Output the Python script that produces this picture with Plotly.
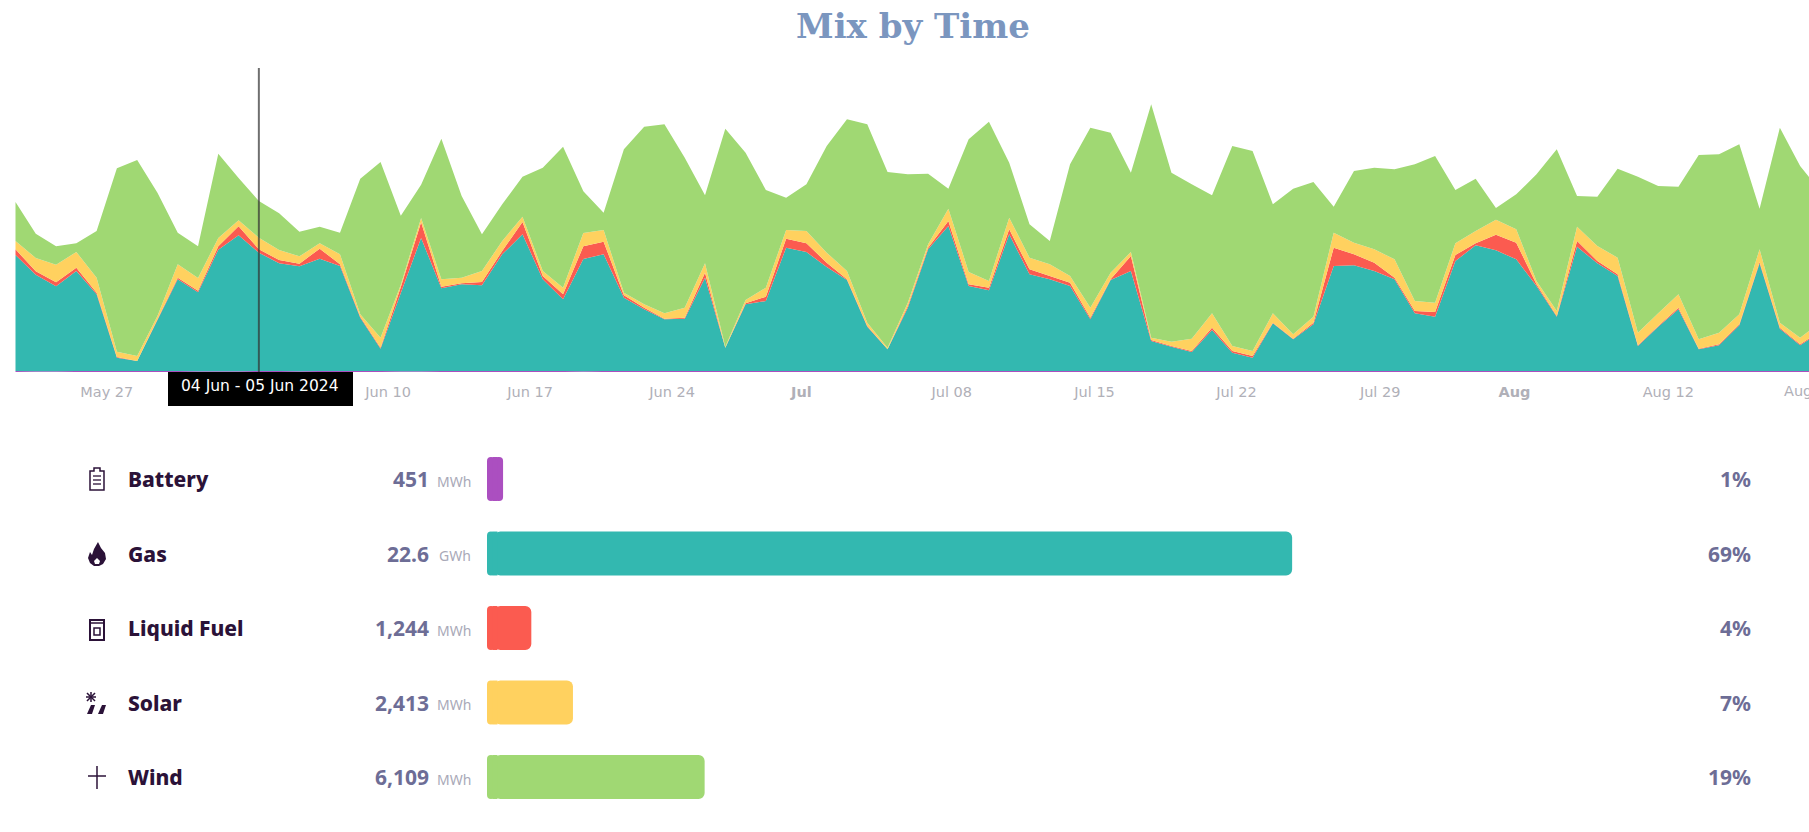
import pandas as pd
import plotly.graph_objects as go

W, H = 1809, 832

# Daily stacked values (May 23 onwards)
gas = [348,290,255,300,230,40,30,153,275,237,365,408,355,323,315,337,315,160,67,235,400,248,260,257,350,410,275,215,337,350,
       220,185,155,157,280,70,200,210,370,357,312,273,133,65,190,365,435,255,242,410,290,275,255,155,273,300,90,73,57,123,
       55,40,143,95,140,315,317,300,275,173,163,330,377,362,335,255,163,373,323,285,75,133,185,65,77,137,323,127,77,117]
liquid = [17,10,12,10,5,2,0,2,5,5,10,27,10,10,8,30,5,3,3,18,47,5,3,10,10,37,10,15,38,38,
          7,5,2,3,15,0,3,13,27,26,13,2,2,0,5,5,15,5,8,15,15,10,10,5,2,45,3,2,3,7,
          5,5,2,2,5,55,33,25,5,7,14,18,6,47,50,5,2,17,7,5,2,2,5,2,3,3,4,3,3,3]
solar = [25,40,53,47,45,16,15,10,40,38,25,18,35,30,22,16,30,7,30,7,13,22,17,33,30,16,15,20,40,35,
         8,10,16,30,28,3,10,27,26,37,30,25,10,5,10,10,37,37,20,35,35,35,20,30,20,12,7,13,37,43,
         15,15,28,13,18,45,35,40,55,30,28,35,37,45,40,10,15,43,45,50,38,38,40,28,35,30,38,15,20,25]
wind = [117,73,55,26,140,550,588,370,95,95,253,127,110,110,74,50,65,407,527,207,100,422,245,110,110,120,310,423,125,52,
        430,533,567,450,204,654,442,293,97,140,320,455,595,527,385,212,60,398,478,165,100,70,335,540,420,238,700,507,463,354,
        600,600,327,437,404,78,215,245,270,410,440,160,157,35,105,320,485,92,148,267,468,382,323,553,535,510,122,585,515,395]
battery = [3,2,2,3,3,3,3,3,3,2,2,2,3,3,2,3,3,3,3,2,2,3,3,3,3,3,3,3,2,3,
           3,3,3,3,3,3,3,3,3,3,3,3,3,3,3,3,3,3,3,3,3,3,3,3,3,3,3,3,3,3,
           3,3,3,3,3,3,3,3,3,3,3,3,3,3,3,3,3,3,3,3,3,3,3,3,3,3,3,3,3,3]

tick_dates = ["2024-05-27","2024-06-10","2024-06-17","2024-06-24","2024-07-01","2024-07-08",
              "2024-07-15","2024-07-22","2024-07-29","2024-08-05","2024-08-12"]
tick_text = ["May 27","Jun 10","Jun 17","Jun 24","<b>Jul</b>","Jul 08","Jul 15","Jul 22","Jul 29","<b>Aug</b>","Aug 12"]
tick_hours = [12,9,9,9,-6,4,5,5,7,-2,12]

sources = ["Battery","Gas","Liquid Fuel","Solar","Wind"]
energy_mwh = [451,22600,1244,2413,6109]
energy_val = ["451","22.6","1,244","2,413","6,109"]
energy_unit = ["MWh","GWh","MWh","MWh","MWh"]
shares = ["1%","69%","4%","7%","19%"]
colors = ["#ab4fc0","#33b8b0","#fb5b50","#ffd15f","#a0d873"]

dates = pd.date_range("2024-05-23", periods=len(gas), freq="D")
day_px = 20.28
left_days = -15.5 / day_px
right_days = (W - 15.5) / day_px
t0 = pd.Timestamp("2024-05-23")
xr = [t0 + pd.Timedelta(days=left_days), t0 + pd.Timedelta(days=right_days)]

fig = go.Figure()
for name, vals, col in zip(sources, [battery, gas, liquid, solar, wind], colors):
    fig.add_trace(go.Scatter(x=dates, y=vals, name=name, mode="none", stackgroup="one",
                             fillcolor=col, hoverinfo="skip"))

# Bars rounded at both ends: the body rounds the right end, a short reversed cap the left end,
# and a small square filler closes the seam between them
mwh_per_px = 28.07
cap = 8 * mwh_per_px
fig.add_trace(go.Bar(y=sources, x=[v - cap + 20 for v in energy_mwh], base=cap - 20, orientation="h",
                     xaxis="x2", yaxis="y2",
                     marker=dict(color=colors, cornerradius=6, line_width=0), hoverinfo="skip"))
fig.add_trace(go.Bar(y=sources, x=[-cap] * len(sources), base=cap, orientation="h",
                     xaxis="x2", yaxis="y2",
                     marker=dict(color=colors, cornerradius=6, line_width=0), hoverinfo="skip"))
fig.add_trace(go.Bar(y=sources, x=[5 * mwh_per_px] * len(sources), base=5.5 * mwh_per_px, orientation="h",
                     xaxis="x2", yaxis="y2",
                     marker=dict(color=colors, line_width=0), hoverinfo="skip"))

def px(x): return x / W
def py(y): return 1 - y / H

shapes = [
    dict(type="line", xref="x", yref="paper", x0="2024-06-04", x1="2024-06-04",
         y0=py(372), y1=py(68), line=dict(color="rgba(50,50,50,0.7)", width=2), layer="above"),
    dict(type="rect", xref="paper", yref="paper", x0=px(168), x1=px(353), y0=py(406), y1=py(372),
         fillcolor="#000000", line_width=0, layer="above"),
]

INK = "#2b1238"
def icon(path_pts, cy, filled=True, cx=97, color=INK, width=1.5):
    d = ""
    for cmd in path_pts:
        if cmd == "Z":
            d += "Z "
        else:
            c, x, y = cmd
            d += f"{c}{px(cx + x):.5f},{py(cy + y):.5f} "
    return dict(type="path", xref="paper", yref="paper", path=d,
                fillcolor=color if filled else "rgba(0,0,0,0)",
                line=dict(color=color, width=width if not filled else 0), layer="above")

def poly(pts, close=True):
    out = [("M", *pts[0])] + [("L", *p) for p in pts[1:]]
    if close:
        out.append("Z")
    return out

centers = [479, 554, 629, 703, 777]
# battery
shapes.append(icon(poly([(-7,-8),(-3,-8),(-3,-11),(3,-11),(3,-8),(7,-8),(7,11),(-7,11)]), centers[0], filled=False))
for dy in (-3, 1, 5):
    shapes.append(icon(poly([(-4,dy),(4,dy)], close=False), centers[0], filled=False, width=1.3))
# flame
shapes.append(icon(poly([(1,-12),(4,-6),(8,-1),(9,5),(6,10),(2,12),(-3,12),(-7,9),(-9,4),(-7,-2),(-5,1),(-3,-5)]), centers[1]))
shapes.append(icon(poly([(0,4),(3,7),(2,10),(-2,10),(-3,7)]), centers[1], color="#ffffff"))
# fuel can
shapes.append(icon(poly([(-7,-9),(7,-9),(7,11),(-7,11)]), centers[2], filled=False, width=2))
shapes.append(icon(poly([(-7,-6),(7,-6)], close=False), centers[2], filled=False))
shapes.append(icon(poly([(-3,-1),(3,-1),(3,6),(-3,6)]), centers[2], filled=False))
# solar
shapes.append(icon(poly([(-6,-11),(-6,-1)], close=False), centers[3], filled=False))
shapes.append(icon(poly([(-11,-6),(-1,-6)], close=False), centers[3], filled=False))
shapes.append(icon(poly([(-10,-10),(-2,-2)], close=False), centers[3], filled=False))
shapes.append(icon(poly([(-2,-10),(-10,-2)], close=False), centers[3], filled=False))
shapes.append(icon(poly([(-6,2),(-2,2),(-5,11),(-10,11)], close=True), centers[3]))
shapes.append(icon(poly([(5,2),(9,2),(6,11),(1,11)], close=True), centers[3]))
# wind
shapes.append(icon(poly([(0,-11),(0,12)], close=False), centers[4], filled=False))
shapes.append(icon(poly([(-9,-1),(9,-1)], close=False), centers[4], filled=False))

ann = [
    dict(x=px(913), y=py(26), xref="paper", yref="paper", xanchor="center", yanchor="middle",
         text="<b>Mix by Time</b>", showarrow=False,
         font=dict(family="DejaVu Serif", size=34, color="#7b96bf")),
    dict(x=px(260), y=py(386), xref="paper", yref="paper", xanchor="center", yanchor="middle",
         text="04 Jun - 05 Jun 2024", showarrow=False,
         font=dict(family="DejaVu Sans", size=15.5, color="#ffffff")),
    dict(x=px(1782), y=py(391), xref="paper", yref="paper", xanchor="left", yanchor="middle",
         text="Aug 19", showarrow=False,
         font=dict(family="DejaVu Sans", size=14.5, color="#b0b0b8")),
]
for s, v, u, p in zip(sources, energy_val, energy_unit, shares):
    ann.append(dict(x=px(126), y=s, xref="paper", yref="y2", xanchor="left", text=s, showarrow=False,
                    font=dict(family="Noto Sans", size=21, weight=800, color=INK)))
    ann.append(dict(x=px(431), y=s, xref="paper", yref="y2", xanchor="right", text=v, showarrow=False,
                    font=dict(family="Noto Sans", size=21, weight=700, color="#6d6d96")))
    ann.append(dict(x=px(473), y=s, xref="paper", yref="y2", xanchor="right", yshift=-2, text=u, showarrow=False,
                    font=dict(family="Noto Sans", size=14, color="#a9a9b8")))
    ann.append(dict(x=px(1753), y=s, xref="paper", yref="y2", xanchor="right", text=p, showarrow=False,
                    font=dict(family="Noto Sans", size=21, weight=700, color="#6d6d96")))

tickvals = [pd.Timestamp(d) + pd.Timedelta(hours=h) for d, h in zip(tick_dates, tick_hours)]

fig.update_layout(
    width=W, height=H, margin=dict(l=0, r=0, t=0, b=0), autosize=False,
    paper_bgcolor="#ffffff", plot_bgcolor="#ffffff", showlegend=False, bargap=0.41, barmode="overlay",
    xaxis=dict(domain=[0, 1], range=xr, type="date", tickmode="array", tickvals=tickvals, ticktext=tick_text,
               tickfont=dict(family="DejaVu Sans", size=14.5, color="#b0b0b8"), ticks="outside", ticklen=7,
               tickcolor="rgba(0,0,0,0)", showgrid=False, zeroline=False, showline=False, anchor="y"),
    yaxis=dict(domain=[py(372), py(70)], range=[0, 906], visible=False, fixedrange=True),
    xaxis2=dict(domain=[px(487), 1], range=[0, (W - 487) * mwh_per_px], visible=False, anchor="y2"),
    yaxis2=dict(domain=[py(814.25), py(441.75)], type="category", categoryorder="array", categoryarray=sources,
                autorange="reversed", visible=False, anchor="x2"),
    shapes=shapes, annotations=ann,
)
fig.write_html("out.html", config={"displayModeBar": False},
               post_script="document.body.style.margin='0';")
